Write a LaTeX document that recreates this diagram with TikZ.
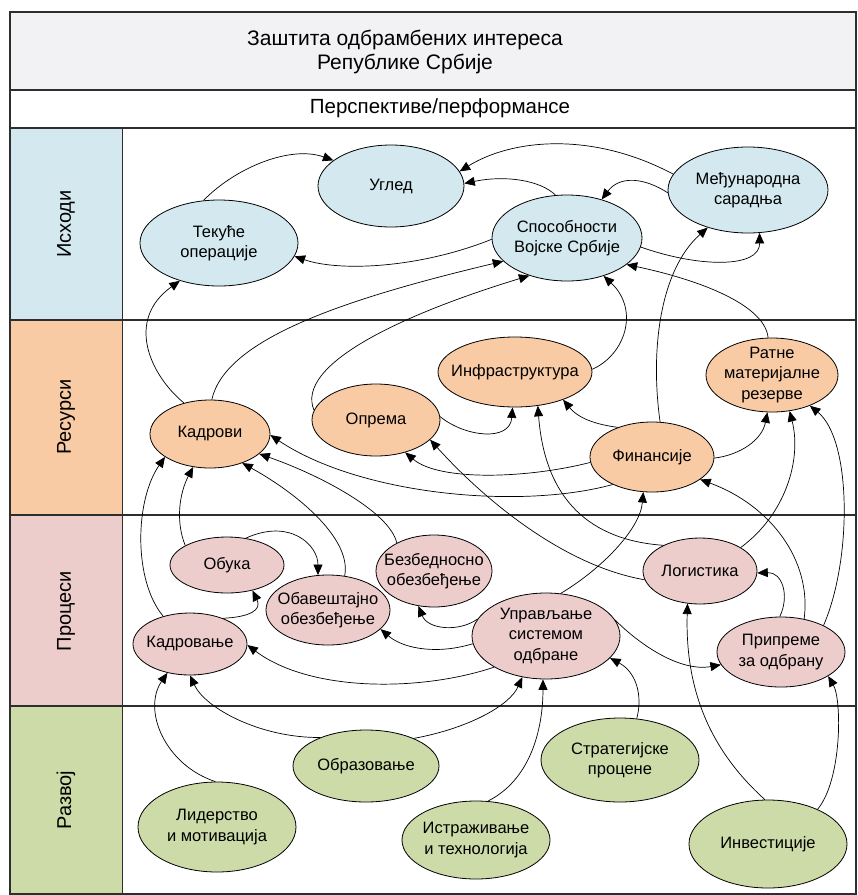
\documentclass[tikz,border=0pt]{standalone}
\usepackage{fontspec}
\setmainfont{Liberation Sans}
\usetikzlibrary{arrows.meta,shapes.geometric}

\definecolor{hdrfill}{HTML}{F2F1F3}
\definecolor{outfill}{HTML}{D3E9EF}
\definecolor{resfill}{HTML}{F9CBA5}
\definecolor{procfill}{HTML}{EDCDCC}
\definecolor{devfill}{HTML}{CCDBA8}
\definecolor{rule}{HTML}{2E2E2E}

\tikzset{
  bubble/.style={ellipse, draw=black, line width=0.8pt, inner xsep=-25pt, inner ysep=-10pt,
    align=center, font=\fontsize{16.5}{20.5}\selectfont},
  outnode/.style={bubble, fill=outfill},
  resnode/.style={bubble, fill=resfill},
  procnode/.style={bubble, fill=procfill},
  devnode/.style={bubble, fill=devfill},
  sz/.style 2 args={minimum width=#1pt, minimum height=#2pt},
  link/.style={-{Triangle[length=10.5pt,width=9pt]}, line width=0.7pt},
  rowlabel/.style={rotate=90, font=\fontsize{20}{24}\selectfont},
  headtext/.style={align=center, font=\fontsize{21}{24}\selectfont},
  gridline/.style={draw=rule, line width=1.1pt}
}

\begin{document}
\begin{tikzpicture}[x=1pt,y=-1pt]
\useasboundingbox (0,0) rectangle (858,895);

% table frame and bands
\fill[hdrfill] (10,12) rectangle (856,90);
\fill[white] (10,90) rectangle (856,128);
\fill[outfill] (10,128) rectangle (122,320);
\fill[resfill] (10,320) rectangle (122,515);
\fill[procfill] (10,515) rectangle (122,706);
\fill[devfill] (10,706) rectangle (122,894);
\draw[gridline] (10,12) rectangle (856,894);
\draw[gridline] (10,90) -- (856,90);
\draw[gridline] (10,128) -- (856,128);
\draw[gridline] (10,320) -- (856,320);
\draw[gridline] (10,515) -- (856,515);
\draw[gridline] (10,706) -- (856,706);
\draw[draw=rule, line width=0.8pt] (122,128) -- (122,894);

% headings
\node[headtext] (title) at (405,52) {Заштита одбрамбених интереса\\Републике Србије};
\node[headtext, font=\fontsize{20.5}{24}\selectfont] (persp) at (440,108) {Перспективе/перформансе};
\node[rowlabel] (lblout) at (66,224) {Исходи};
\node[rowlabel] (lblres) at (66,417) {Ресурси};
\node[rowlabel] (lblproc) at (66,611) {Процеси};
\node[rowlabel] (lbldev) at (66,800) {Развој};

% outcomes
\node[outnode, sz={146}{82}] (ugled) at (391,186) {Углед};
\node[outnode, sz={158}{86}] (tekuce) at (219,243) {Текуће\\операције};
\node[outnode, sz={150}{86}] (sposob) at (567,238) {Способности\\Војске Србије};
\node[outnode, sz={160}{86}] (medj) at (748,190) {Међународна\\сарадња};

% resources
\node[resnode, sz={120}{68}] (kadrovi) at (210,434) {Кадрови};
\node[resnode, sz={128}{72}] (oprema) at (376,420) {Опрема};
\node[resnode, sz={154}{70}] (infra) at (515,372) {Инфраструктура};
\node[resnode, sz={124}{70}] (finans) at (652,457) {Финансије};
\node[resnode, sz={132}{74}] (ratne) at (772,375) {Ратне\\материјалне\\резерве};

% processes
\node[procnode, sz={114}{56}] (obuka) at (227,565) {Обука};
\node[procnode, sz={124}{70}] (obav) at (328,610) {Обавештајно\\обезбеђење};
\node[procnode, sz={116}{72}] (bezb) at (434,571) {Безбедносно\\обезбеђење};
\node[procnode, sz={114}{62}] (kadrovanje) at (190,644) {Кадровање};
\node[procnode, sz={148}{86}] (uprav) at (546,636) {Управљање\\системом\\одбране};
\node[procnode, sz={114}{66}] (logist) at (700,571) {Логистика};
\node[procnode, sz={128}{70}] (pripreme) at (781,652) {Припреме\\за одбрану};

% development
\node[devnode, sz={146}{72}] (obraz) at (366,766) {Образовање};
\node[devnode, sz={158}{90}] (lider) at (217,827) {Лидерство\\и мотивација};
\node[devnode, sz={148}{78}] (istraz) at (476,840) {Истраживање\\и технологија};
\node[devnode, sz={158}{84}] (strat) at (620,760) {Стратегијске\\процене};
\node[devnode, sz={158}{88}] (invest) at (768,844) {Инвестиције};

% links into outcomes
\draw[link] (tekuce.110) .. controls (235,168) and (290,145) .. (ugled.156);
\draw[link] (medj.168) .. controls (590,130) and (510,140) .. (ugled.12);
\draw[link] (sposob.105) .. controls (540,180) and (505,175) .. (ugled.2);
\draw[link] (medj.182) .. controls (645,178) and (620,175) .. (sposob.48);
\draw[link] (sposob.-7) .. controls (700,268) and (760,268) .. (medj.-75);
\draw[link] (sposob.181) .. controls (420,268) and (340,272) .. (tekuce.-10);
\draw[link] (kadrovi.130) .. controls (150,375) and (125,320) .. (tekuce.224);
\draw[link] (kadrovi.87) .. controls (225,340) and (340,300) .. (sposob.200);
\draw[link] (oprema.171) .. controls (295,365) and (400,315) .. (sposob.225);
\draw[link] (infra.2) .. controls (625,355) and (640,310) .. (sposob.-46);
\draw[link] (finans.77) .. controls (650,350) and (660,270) .. (medj.223);
\draw[link] (ratne.96) .. controls (765,305) and (700,280) .. (sposob.-24);

% links into resources
\draw[link] (finans.215) .. controls (520,510) and (360,495) .. (kadrovi.-1);
\draw[link] (finans.185) .. controls (530,478) and (440,482) .. (oprema.-48);
\draw[link] (logist.189) .. controls (560,565) and (480,495) .. (oprema.-20);
\draw[link] (oprema.3) .. controls (465,437) and (510,442) .. (infra.266);
\draw[link] (logist.145) .. controls (590,540) and (545,500) .. (infra.-56);
\draw[link] (finans.139) .. controls (600,425) and (580,420) .. (infra.-30);
\draw[link] (finans.-1) .. controls (740,455) and (762,440) .. (ratne.263);
\draw[link] (uprav.71) .. controls (600,570) and (640,530) .. (finans.256);
\draw[link] (pripreme.55) .. controls (812,560) and (770,505) .. (finans.-25);
\draw[link] (logist.30) .. controls (785,515) and (802,460) .. (ratne.-64);
\draw[link] (pripreme.32) .. controls (852,560) and (852,440) .. (ratne.-39);
\draw[link] (obuka.155) .. controls (175,520) and (180,492) .. (kadrovi.243);
\draw[link] (kadrovanje.134) .. controls (133,580) and (135,500) .. (kadrovi.207);
\draw[link] (obav.64) .. controls (352,540) and (300,495) .. (kadrovi.-42);
\draw[link] (bezb.143) .. controls (390,512) and (320,475) .. (kadrovi.-22);

% links between processes
\draw[link] (pripreme.92) .. controls (790,595) and (782,572) .. (logist.-2);
\draw[link] (obuka.55) .. controls (290,518) and (318,545) .. (obav.106);
\draw[link] (kadrovanje.38) .. controls (250,617) and (262,610) .. (obuka.-45);
\draw[link] (uprav.166) .. controls (460,632) and (428,630) .. (bezb.246);
\draw[link] (uprav.186) .. controls (440,654) and (405,650) .. (obav.-20);
\draw[link] (uprav.211) .. controls (420,692) and (310,692) .. (kadrovanje.-1);
\draw[link] (uprav.13) .. controls (640,645) and (680,672) .. (pripreme.192);

% links from development
\draw[link] (invest.94) .. controls (710,750) and (685,690) .. (logist.249);
\draw[link] (invest.35) .. controls (842,780) and (842,700) .. (pripreme.-27);
\draw[link] (strat.68) .. controls (643,695) and (636,672) .. (uprav.-19);
\draw[link] (istraz.73) .. controls (530,780) and (543,730) .. (uprav.266);
\draw[link] (obraz.30) .. controls (470,728) and (510,705) .. (uprav.240);
\draw[link] (obraz.148) .. controls (260,738) and (205,708) .. (kadrovanje.270);
\draw[link] (lider.92) .. controls (165,765) and (142,710) .. (kadrovanje.232);
\end{tikzpicture}
\end{document}
